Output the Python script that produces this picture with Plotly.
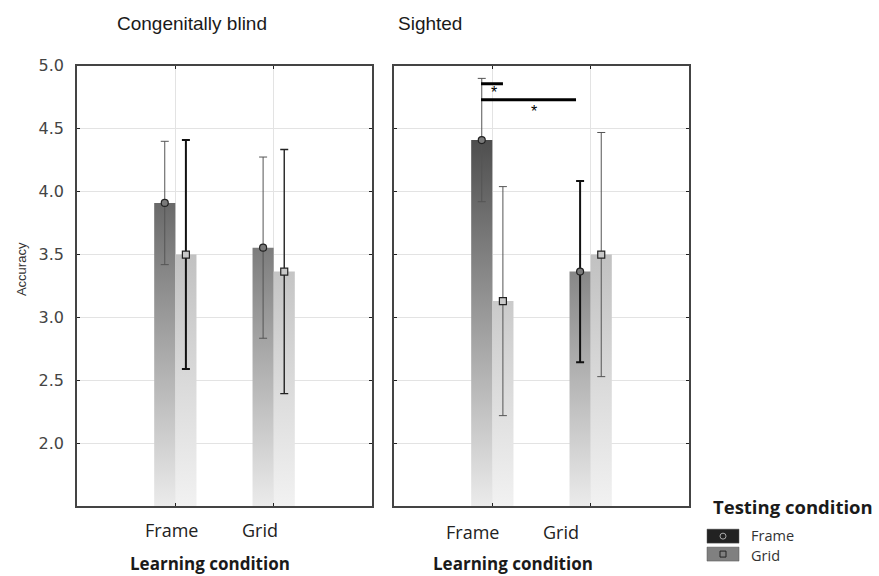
import plotly.graph_objects as go

# ---------------- data ----------------
panels = ["Congenitally blind", "Sighted"]
learning = ["Frame", "Grid"]
testing = ["Frame", "Grid"]

# mean accuracy per testing condition, ordered by learning condition
blind_frame_mean = [3.91, 3.555]
blind_grid_mean = [3.50, 3.365]
sighted_frame_mean = [4.41, 3.365]
sighted_grid_mean = [3.13, 3.50]

blind_frame_err = [0.49, 0.72]
blind_grid_err = [0.91, 0.97]
sighted_frame_err = [0.49, 0.72]
sighted_grid_err = [0.91, 0.97]

y_ticks = [2.0, 2.5, 3.0, 3.5, 4.0, 4.5, 5.0]

# significance markers (sighted panel): bracket x-extent and y level
sig_x0 = [-0.115, -0.115]
sig_x1 = [0.108, 0.851]
sig_y = [4.858, 4.73]
star_x = [0.017, 0.424]
star_y = [4.786, 4.64]

# ---------------- styling ----------------
W, H = 879, 576
TOP_OFF, H_EFF = 7, 569
BASE = 1.5
BAR_W = 0.215
dark_scale = [[0, "#eeeeee"], [1, "#4a4a4a"]]
light_scale = [[0, "#f3f3f3"], [1, "#a9a9a9"]]
err_width = {("b", 0, 0): 1, ("b", 1, 0): 2, ("b", 0, 1): 1, ("b", 1, 1): 1.4,
             ("s", 0, 0): 1, ("s", 1, 0): 1, ("s", 0, 1): 2, ("s", 1, 1): 1}
err_color = {1: "#555555", 1.4: "#222222", 2: "#111111"}

def px(x):
    return x / W

def py(y):
    return 1 - (y - TOP_OFF) / H_EFF

fig = go.Figure()

data = {
    "b": ([blind_frame_mean, blind_grid_mean], [blind_frame_err, blind_grid_err], "x", "y"),
    "s": ([sighted_frame_mean, sighted_grid_mean], [sighted_frame_err, sighted_grid_err], "x2", "y2"),
}

for key, (means, errs, xa, ya) in data.items():
    for ti, series in enumerate(means):
        xs, ys = [], []
        for li, v in enumerate(series):
            left = li - BAR_W if ti == 0 else li
            right = left + BAR_W
            xs += [left, left, right, right, left, None]
            ys += [BASE, v, v, BASE, BASE, None]
        fig.add_trace(go.Scatter(
            x=xs, y=ys, xaxis=xa, yaxis=ya, mode="lines", fill="toself",
            line=dict(width=0, color="rgba(0,0,0,0)"),
            fillgradient=dict(type="vertical", start=BASE, stop=4.5,
                              colorscale=dark_scale if ti == 0 else light_scale),
            showlegend=False, hoverinfo="skip"))
    for ti, series in enumerate(means):
        for li, v in enumerate(series):
            xc = li - BAR_W / 2 if ti == 0 else li + BAR_W / 2
            w = err_width[(key, ti, li)]
            fig.add_trace(go.Scatter(
                x=[xc], y=[v], xaxis=xa, yaxis=ya, mode="markers",
                marker=dict(symbol="circle" if ti == 0 else "square", size=7,
                            color="#7a7a7a" if ti == 0 else "#c8c8c8",
                            line=dict(color="#222222", width=1.2)),
                error_y=dict(type="data", array=[errs[ti][li]], visible=True,
                             thickness=w, width=4, color=err_color[w]),
                showlegend=False, hoverinfo="skip"))

# significance brackets
for i in range(len(sig_y)):
    fig.add_shape(type="line", xref="x2", yref="y2", x0=sig_x0[i], x1=sig_x1[i],
                  y0=sig_y[i], y1=sig_y[i], line=dict(color="#000000", width=3))
    fig.add_annotation(xref="x2", yref="y2", x=star_x[i], y=star_y[i], text="*",
                       showarrow=False, font=dict(size=16, color="#000000",
                                                  family="Liberation Sans"))

axis_common = dict(showline=True, linecolor="#444444", linewidth=1.5, mirror="ticks",
                   ticks="inside", ticklen=3, tickcolor="#222222", gridcolor="#e3e3e3",
                   zeroline=False)

fig.update_layout(
    width=W, height=H, margin=dict(l=0, r=0, t=0, b=0),
    paper_bgcolor="white", plot_bgcolor="rgba(0,0,0,0)", showlegend=False,
    xaxis=dict(domain=[px(77), px(372)], range=[-1, 2], tickvals=[0, 1],
               showticklabels=False, anchor="y", **axis_common),
    xaxis2=dict(domain=[px(394), px(689)], range=[-1, 2], tickvals=[0, 1],
                showticklabels=False, anchor="y2", **axis_common),
    yaxis=dict(domain=[py(506), py(64)], range=[BASE, 5.0], tickvals=y_ticks,
               tickformat=".1f", anchor="x", ticklabelstandoff=8,
               tickfont=dict(family="DejaVu Sans", size=16, color="#444444"),
               **axis_common),
    yaxis2=dict(domain=[py(506), py(64)], range=[BASE, 5.0], tickvals=y_ticks,
                showticklabels=False, anchor="x2", **axis_common),
)

def ann(text, x, y, size, bold=False, family="Open Sans", color="#1a1a1a", xanchor="center", angle=0):
    fig.add_annotation(xref="paper", yref="paper", x=px(x), y=py(y), text=f"<b>{text}</b>" if bold else text,
                       showarrow=False, xanchor=xanchor, yanchor="middle", textangle=angle,
                       font=dict(family=family, size=size, color=color))

# panel titles
ann(panels[0], 192, 22, 19, family="Liberation Sans")
ann(panels[1], 430, 22, 19, family="Liberation Sans")
# y title
ann("Accuracy", 21, 268, 13, family="Liberation Sans", color="#333333", angle=-90)
# x tick labels
ann(learning[0], 171, 530, 18, color="#222222")
ann(learning[1], 260, 530, 18, color="#222222")
ann(learning[0], 472, 532, 18, color="#222222")
ann(learning[1], 561, 532, 18, color="#222222")
# x titles
ann("Learning condition", 210, 563, 17, bold=True)
ann("Learning condition", 513, 563.5, 17, bold=True)

# legend
ann("Testing condition", 711, 506, 18.5, bold=True, xanchor="left")
sw = [(529, 543, "#222222", "circle"), (547, 561, "#808080", "square")]
lbl_y = [535, 555]
for i, (y0, y1, col, sym) in enumerate(sw):
    fig.add_shape(type="rect", xref="paper", yref="paper", x0=px(707), x1=px(739),
                  y0=py(y1), y1=py(y0), fillcolor=col, line=dict(color="#555555", width=0.5))
    cx, cy = 723, (y0 + y1) / 2
    fig.add_shape(type="circle" if sym == "circle" else "rect", xref="paper", yref="paper",
                  x0=px(cx - 3), x1=px(cx + 3), y0=py(cy + 3), y1=py(cy - 3),
                  fillcolor=col, line=dict(color="#aaaaaa" if i == 0 else "#222222", width=1))
    ann(testing[i], 749, lbl_y[i], 14.5, color="#333333", xanchor="left")

fig.write_html("out.html", config={"displayModeBar": False},
               post_script="document.body.style.margin='0px';")
